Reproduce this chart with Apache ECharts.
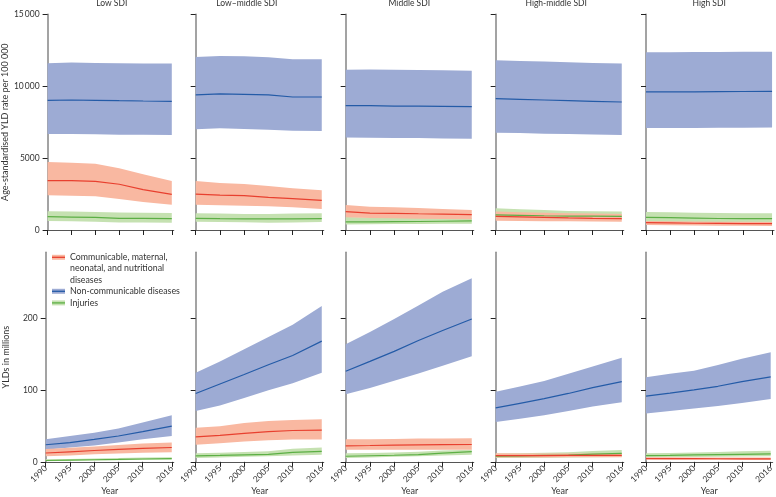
<!DOCTYPE html>
<html><head><meta charset="utf-8">
<script src="https://cdn.jsdelivr.net/npm/echarts@6/dist/echarts.min.js"></script>
<style>html,body{margin:0;padding:0;background:#fff}#c{width:776px;height:497px}</style>
</head><body><div id="c"></div>
<script>
// ---------- data ----------
const years = [1990, 1995, 2000, 2005, 2010, 2016];
const tickYears = [1990, 1995, 2000, 2005, 2010, 2016];
const panelTitles = ['Low SDI', 'Low–middle SDI', 'Middle SDI', 'High-middle SDI', 'High SDI'];
const rateTicks = [0, 5000, 10000, 15000];
const countTicks = [0, 100, 200];
const NAME_CMNN = 'Communicable, maternal, neonatal, and nutritional diseases';
const NAME_NCD = 'Non-communicable diseases';
const NAME_INJ = 'Injuries';

// Age-standardised YLD rate per 100 000 (panels: Low, Low-middle, Middle, High-middle, High)
const rateNcdUp = [
  [11590, 11640, 11610, 11590, 11570, 11570],
  [12030, 12100, 12080, 12010, 11870, 11870],
  [11150, 11170, 11150, 11130, 11110, 11080],
  [11800, 11760, 11710, 11660, 11620, 11570],
  [12360, 12360, 12370, 12380, 12390, 12400]
];
const rateNcdMean = [
  [9020, 9040, 9020, 8990, 8970, 8950],
  [9390, 9460, 9430, 9390, 9250, 9250],
  [8650, 8650, 8620, 8610, 8600, 8580],
  [9130, 9090, 9040, 8990, 8950, 8900],
  [9600, 9600, 9610, 9620, 9630, 9640]
];
const rateNcdLow = [
  [6680, 6670, 6650, 6630, 6620, 6610],
  [7000, 7070, 7020, 6980, 6910, 6880],
  [6440, 6420, 6400, 6390, 6370, 6350],
  [6770, 6740, 6700, 6670, 6640, 6610],
  [7090, 7100, 7100, 7110, 7110, 7120]
];
const rateCmnnUp = [
  [4730, 4680, 4610, 4290, 3870, 3410],
  [3410, 3270, 3200, 3060, 2900, 2760],
  [1740, 1620, 1580, 1530, 1460, 1390],
  [1280, 1240, 1200, 1170, 1140, 1110],
  [630, 610, 590, 580, 570, 560]
];
const rateCmnnMean = [
  [3430, 3430, 3380, 3180, 2810, 2480],
  [2500, 2430, 2390, 2270, 2180, 2060],
  [1280, 1180, 1160, 1130, 1110, 1070],
  [950, 910, 880, 840, 810, 790],
  [510, 490, 470, 460, 450, 440]
];
const rateCmnnLow = [
  [2410, 2390, 2340, 2160, 1950, 1760],
  [1760, 1720, 1690, 1650, 1580, 1460],
  [880, 840, 810, 790, 770, 740],
  [650, 630, 610, 600, 590, 580],
  [350, 330, 310, 300, 290, 280]
];
const rateInjUp = [
  [1300, 1280, 1250, 1210, 1200, 1180],
  [1160, 1140, 1120, 1110, 1140, 1160],
  [900, 870, 850, 830, 820, 810],
  [1510, 1440, 1390, 1320, 1300, 1280],
  [1250, 1230, 1200, 1180, 1170, 1160]
];
const rateInjMean = [
  [930, 900, 880, 810, 810, 790],
  [810, 790, 780, 770, 780, 790],
  [560, 570, 580, 590, 610, 630],
  [1050, 1020, 990, 970, 960, 950],
  [880, 860, 830, 800, 790, 790]
];
const rateInjLow = [
  [630, 600, 580, 530, 520, 510],
  [580, 560, 540, 510, 530, 560],
  [390, 400, 410, 420, 430, 440],
  [760, 740, 720, 710, 700, 700],
  [520, 510, 500, 490, 480, 470]
];

// YLDs in millions
const countNcdUp = [
  [31.4, 36, 40.6, 46.5, 54.7, 64.8],
  [124, 140, 157, 174, 191, 217],
  [164, 181, 199, 218, 237, 256],
  [97.6, 105, 112.6, 122.6, 133, 145],
  [118, 122.6, 127, 135, 143.5, 152.7]
];
const countNcdMean = [
  [23.8, 26.9, 31.4, 36, 42, 49.7],
  [95.3, 108.5, 121.7, 135.3, 148.2, 168.2],
  [126.3, 140, 154, 169, 183, 199],
  [75.2, 81.6, 88, 95.3, 103.5, 111.7],
  [91.6, 95.7, 100.3, 105.3, 111.7, 118.5]
];
const countNcdLow = [
  [17, 20, 22.8, 26.9, 31.4, 36],
  [70.7, 78.5, 88.9, 99.8, 109.4, 124],
  [94.3, 103, 113, 123, 134, 147],
  [55.6, 60.2, 64.8, 70.7, 77.1, 83],
  [67.5, 70.7, 74.4, 78, 82, 87.5]
];
const countCmnnUp = [
  [17.8, 19.5, 21.5, 23.5, 25.5, 26.9],
  [47.4, 49.7, 54.3, 57, 58.4, 59.3],
  [31.4, 31.6, 32, 32.4, 32.6, 32.8],
  [11.9, 11.8, 11.7, 11.6, 11.5, 11.5],
  [6.4, 6.3, 6.2, 6.1, 6, 6]
];
const countCmnnMean = [
  [12.3, 14, 15.8, 17.5, 18.9, 20],
  [34.7, 37, 39.7, 42, 43.7, 44.3],
  [22.4, 22.8, 23.3, 23.7, 24, 24.2],
  [8.7, 8.7, 8.8, 8.9, 9, 9],
  [4.6, 4.5, 4.4, 4.3, 4.2, 4.2]
];
const countCmnnLow = [
  [7.8, 9, 10.5, 11.8, 12.7, 13.3],
  [23.8, 26, 28.3, 30, 31, 31],
  [17, 17, 17, 17, 17, 17],
  [6, 6.1, 6.2, 6.3, 6.4, 6.4],
  [3.2, 3.1, 3, 2.9, 2.8, 2.7]
];
const countInjUp = [
  [3.6, 4.1, 4.7, 5.3, 5.9, 6.5],
  [11.9, 12.6, 13.6, 14.6, 18.3, 20],
  [11.9, 12.5, 13.2, 14, 15.8, 17],
  [11.5, 12, 12.7, 13.5, 15, 16.4],
  [11.9, 12.4, 13, 13.7, 14.6, 15.6]
];
const countInjMean = [
  [1.9, 2.4, 2.9, 3.4, 4, 4.6],
  [8.2, 8.9, 9.7, 10.5, 13.3, 14.6],
  [7.8, 8.5, 9.2, 10, 12.2, 14.2],
  [7.8, 8.3, 8.9, 9.5, 10.7, 11.9],
  [8.7, 9.1, 9.6, 10.1, 10.5, 11]
];
const countInjLow = [
  [1, 1.4, 1.9, 2.3, 2.8, 3.2],
  [5.5, 6.2, 7, 7.8, 9, 10],
  [5.5, 6.2, 7, 7.8, 9, 10],
  [5.2, 5.5, 5.8, 6.1, 6.4, 6.8],
  [6.4, 6.6, 6.9, 7.2, 7.5, 7.8]
];

// ---------- styling / layout ----------
const FONT = 'Lato';
const COL = {
  ncd: { band: '#9dabd4', line: '#245ba7' },
  cmnn: { band: '#f9b8a1', line: '#e8402f' },
  inj: { band: '#c5e1b1', line: '#5caf45' }
};
const gridLefts = [45.7, 195.7, 345.7, 495.7, 646];
const titleCenters = [111.7, 246.8, 409.3, 556.2, 709.2];
const GRID_W = 128;
const rows = [
  { top: 14.3, height: 215.7, max: 15000, ticks: rateTicks, name: 'Age-standardised YLD rate per 100 000',
    ncd: [rateNcdLow, rateNcdMean, rateNcdUp], cmnn: [rateCmnnLow, rateCmnnMean, rateCmnnUp], inj: [rateInjLow, rateInjMean, rateInjUp] },
  { top: 252.3, height: 213.4, max: 292, ticks: countTicks, name: 'YLDs in millions',
    ncd: [countNcdLow, countNcdMean, countNcdUp], cmnn: [countCmnnLow, countCmnnMean, countCmnnUp], inj: [countInjLow, countInjMean, countInjUp] }
];

function fmtNum(v) {
  if (v >= 10000) { const s = String(v); return s.slice(0, s.length - 3) + '\u2009' + s.slice(-3); }
  return String(v);
}

function bandSeries(g, low, up, color) {
  const data = years.map((y, i) => [y, low[i], up[i]]);
  return {
    type: 'custom', xAxisIndex: g, yAxisIndex: g, silent: true, data: data,
    encode: { x: 0, y: [1, 2] },
    renderItem: function (params, api) {
      if (params.dataIndex !== 0) return null;
      const top = data.map(d => api.coord([d[0], d[2]]));
      const bot = data.map(d => api.coord([d[0], d[1]])).reverse();
      return { type: 'polygon', shape: { points: top.concat(bot) }, style: { fill: color } };
    }
  };
}
function lineSeries(g, name, mean, color) {
  return {
    type: 'line', name: name, xAxisIndex: g, yAxisIndex: g, silent: true,
    data: years.map((y, i) => [y, mean[i]]), symbol: 'none',
    lineStyle: { color: color, width: 1.2 }, itemStyle: { color: color }
  };
}

const grids = [], xAxes = [], yAxes = [], series = [], titles = [];
rows.forEach((row, r) => {
  for (let p = 0; p < 5; p++) {
    const g = r * 5 + p;
    grids.push({ left: gridLefts[p], top: row.top, width: GRID_W, height: row.height });
    xAxes.push({
      type: 'value', gridIndex: g, min: 1990, max: 2016.4,
      name: r === 1 ? 'Year' : '', nameLocation: 'middle', nameGap: 23.5,
      nameTextStyle: { fontFamily: FONT, fontSize: 9, color: '#333' },
      axisLine: { show: true, lineStyle: { color: '#555', width: 1.2 } },
      axisTick: { show: true, customValues: tickYears, length: 5, lineStyle: { color: '#222', width: 1 } },
      axisLabel: { show: r === 1, customValues: tickYears, rotate: 45, margin: 5, fontFamily: FONT, fontSize: 8.5, color: '#333', formatter: v => String(v) },
      splitLine: { show: false }
    });
    yAxes.push({
      type: 'value', gridIndex: g, min: 0, max: row.max,
      name: p === 0 ? row.name : '', nameLocation: 'middle', nameGap: 35,
      nameTextStyle: { fontFamily: FONT, fontSize: 9, color: '#333' },
      axisLine: { show: true, lineStyle: { color: '#8c8c8c', width: 1.6 } },
      axisTick: { show: true, customValues: row.ticks, length: 5, lineStyle: { color: '#222', width: 1 } },
      axisLabel: { show: p === 0, customValues: row.ticks, margin: 8, fontFamily: FONT, fontSize: 8.5, color: '#333', formatter: fmtNum },
      splitLine: { show: false }
    });
    series.push(bandSeries(g, row.ncd[0][p], row.ncd[2][p], COL.ncd.band));
    series.push(lineSeries(g, NAME_NCD, row.ncd[1][p], COL.ncd.line));
    series.push(bandSeries(g, row.inj[0][p], row.inj[2][p], COL.inj.band));
    series.push(lineSeries(g, NAME_INJ, row.inj[1][p], COL.inj.line));
    series.push(bandSeries(g, row.cmnn[0][p], row.cmnn[2][p], COL.cmnn.band));
    series.push(lineSeries(g, NAME_CMNN, row.cmnn[1][p], COL.cmnn.line));
  }
});
panelTitles.forEach((t, p) => {
  titles.push({ text: t, left: titleCenters[p], top: -1, textAlign: 'center', padding: 0,
    textStyle: { fontFamily: FONT, fontSize: 8.5, fontWeight: 'normal', color: '#333' } });
});

// leading blank lines keep the legend icon level with the first text line
const legendFmt = name => name === NAME_CMNN ? '\n\nCommunicable, maternal,\nneonatal, and nutritional\ndiseases' : name;
const legendText = { fontFamily: FONT, fontSize: 8.8, lineHeight: 11.2, color: '#333' };
const legendBase = { orient: 'vertical', left: 52, top: 229.3, padding: 0, itemGap: 0.4, itemWidth: 13, selectedMode: false, formatter: legendFmt };
const legends = [
  Object.assign({}, legendBase, {
    itemHeight: 5, icon: 'rect', z: 4, textStyle: legendText,
    itemStyle: { borderWidth: 0 },
    data: [
      { name: NAME_CMNN, itemStyle: { color: COL.cmnn.band } },
      { name: NAME_NCD, itemStyle: { color: COL.ncd.band } },
      { name: NAME_INJ, itemStyle: { color: COL.inj.band } }
    ]
  }),
  Object.assign({}, legendBase, {
    itemHeight: 1.3, icon: 'rect', z: 6, textStyle: Object.assign({}, legendText, { color: 'rgba(0,0,0,0)' }),
    itemStyle: { borderWidth: 0 },
    data: [
      { name: NAME_CMNN, itemStyle: { color: COL.cmnn.line } },
      { name: NAME_NCD, itemStyle: { color: COL.ncd.line } },
      { name: NAME_INJ, itemStyle: { color: COL.inj.line } }
    ]
  })
];

const chart = echarts.init(document.getElementById('c'), null, { renderer: 'canvas' });
chart.setOption({
  animation: false,
  backgroundColor: '#fff',
  textStyle: { fontFamily: FONT },
  title: titles,
  legend: legends,
  grid: grids,
  xAxis: xAxes,
  yAxis: yAxes,
  series: series
});
</script></body></html>
